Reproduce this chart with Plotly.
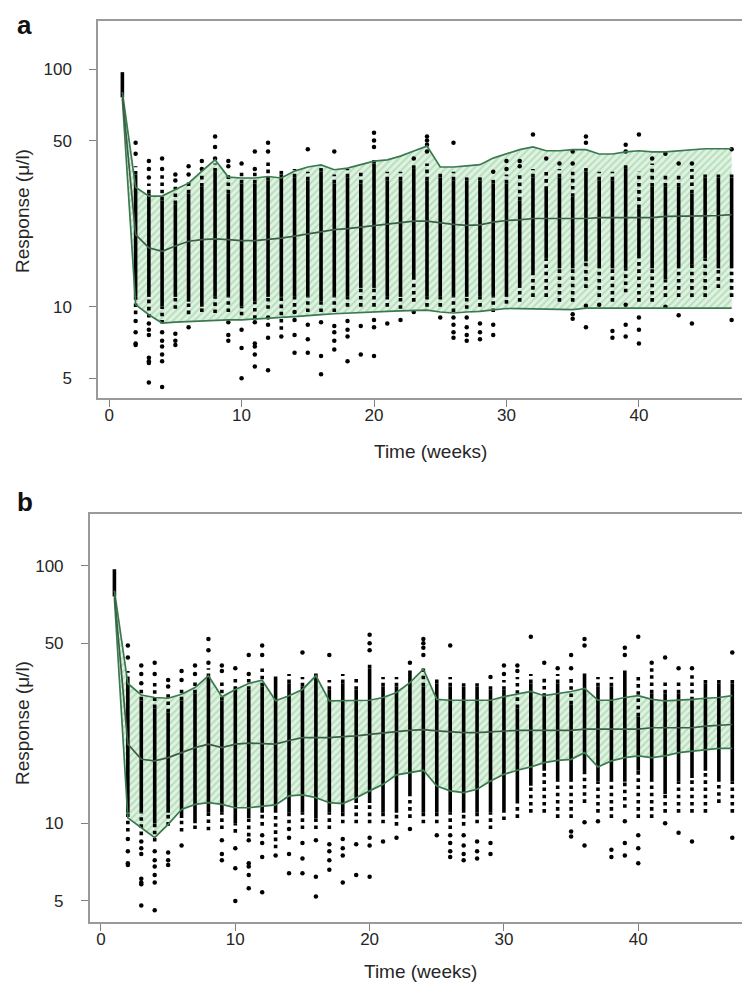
import plotly.graph_objects as go

weeks = list(range(1, 48))

# observed data per week: solid core, dotted extent, isolated points
seg_lo = [76, 11, 11, 10, 11, 10.5, 10, 11, 11, 10, 10.5, 11, 11, 11, 11, 10.5, 11, 11, 12, 12,
          11, 11, 13, 11, 11, 11, 11, 11, 11, 11, 12, 14, 16, 14.5, 14.5, 15.5, 14.5, 14.5, 14.5, 16,
          14.5, 13, 14.5, 15, 16, 14.5, 14.5]
seg_hi = [97, 36, 30, 28, 27, 30, 32, 37, 30, 33, 33, 34, 36, 35, 34, 37, 33, 35, 33, 40,
          34, 34, 38, 34, 35, 34, 34, 34, 33, 33, 28, 35, 31, 35, 29, 37, 34, 34, 38, 26,
          32, 32, 32, 30, 35, 35, 35]
dot_lo = [76, 9.3, 9.0, 8.5, 9.8, 9.3, 9.5, 9.4, 9.5, 9.2, 8.9, 9.8, 8.0, 10, 9.5, 9.5, 9.5, 10, 10, 10,
          10, 9.8, 10.5, 10, 10, 9.5, 9.8, 10, 9.5, 10.3, 10.5, 11, 11, 10.5, 10.5, 12, 11, 10.5, 11.5, 10.5,
          10.5, 11, 11, 11, 11, 12, 11]
dot_hi = [97, 39, 33, 36, 32, 34, 36, 40, 36, 37, 37, 41, 38, 38, 37, 39, 36, 38, 37, 42,
          37, 37, 40, 40, 37, 37, 35, 35, 35, 36, 37, 38, 37, 38, 37, 39, 37, 37, 40, 37,
          40, 36, 36, 38, 36, 36, 36]
top_out = [[], [49, 44], [41, 38, 35], [42, 38], [36, 34], [39, 36], [41, 38], [52, 47, 42], [41, 39], [40],
           [45, 38], [49, 45], [], [], [46], [], [45], [], [], [54, 50, 47],
           [], [], [42], [52, 50, 48, 45], [], [49], [], [], [37], [41, 38],
           [41, 39], [53], [42], [40], [45, 40], [52, 49], [], [], [48, 45], [53],
           [42], [44], [40], [40], [], [], [46]]
bot_out = [[], [8.7, 7.8, 7.0, 6.9], [8.5, 8.0, 7.6, 6.1, 5.9, 5.8, 4.8], [7.8, 7.2, 6.8, 6.3, 5.9, 4.6],
           [7.7, 7.2, 6.9], [8.2], [], [], [8.6, 7.6, 7.2], [8.0, 6.7, 5.0],
           [8.6, 7.0, 6.8, 6.3, 5.6], [9.0, 8.4, 7.4, 5.4], [7.5], [9.5, 8.8, 7.6, 6.4], [8.4, 7.3, 6.4],
           [8.6, 6.2, 5.2], [8.3, 7.8, 7.2, 6.6], [8.7, 8.0, 7.5, 5.9], [8.3, 6.3], [8.8, 8.2, 6.2],
           [8.5], [8.8], [9.5], [], [9.0], [9.0, 8.4, 7.8, 7.4], [9.0, 8.2, 7.6, 7.2], [8.5, 7.8, 7.3],
           [8.4, 7.6], [], [], [], [], [], [9.3, 8.9], [10.1, 8.2], [10.2], [7.9, 7.4],
           [10.2, 8.4, 7.5], [9.0, 8.0, 7.0], [], [10], [9.2], [8.5], [], [], [8.8]]

# panel a prediction band
a_upper = [80, 31.8, 29.2, 29.2, 31.1, 33.1, 37.2, 41.5, 35.1, 34.8, 34.8, 35.3, 34.8, 37.2, 38.7, 39.5,
           37.7, 38.3, 39.6, 41.0, 41.5, 43.0, 45.2, 47.4, 38.7, 38.7, 39.1, 39.6, 42.2, 43.9, 45.8, 47.0,
           45.3, 45.3, 45.8, 45.8, 43.9, 43.9, 44.8, 45.3, 44.8, 44.8, 45.3, 45.8, 46.2, 46.2, 46.2]
a_median = [77.5, 20.1, 17.7, 17.1, 18.0, 18.85, 19.15, 19.3, 19.15, 18.96, 18.96, 19.15, 19.45, 19.83, 20.2,
            20.6, 21.1, 21.3, 21.6, 21.9, 22.3, 22.6, 22.9, 22.9, 22.5, 22.2, 22.0, 22.1, 22.7, 23.05, 23.2,
            23.5, 23.5, 23.5, 23.5, 23.5, 23.7, 23.7, 23.7, 23.7, 23.7, 24.0, 24.0, 24.1, 24.1, 24.2, 24.4]
a_lower = [75, 10.2, 9.25, 8.54, 8.62, 8.68, 8.73, 8.76, 8.81, 8.81, 8.9, 8.96, 9.02, 9.09, 9.2, 9.27,
           9.34, 9.41, 9.45, 9.52, 9.56, 9.61, 9.66, 9.68, 9.5, 9.41, 9.5, 9.56, 9.7, 9.83, 9.81, 9.78,
           9.78, 9.78, 9.72, 9.87, 9.87, 9.87, 9.87, 9.87, 9.87, 9.87, 9.87, 9.87, 9.87, 9.87, 9.87]

# panel b prediction band
b_upper = [80, 34.9, 31.5, 30.8, 30.6, 31.7, 33.65, 37.4, 31.0, 33.1, 34.9, 35.95, 29.9, 31.3, 33.1, 37.4,
           29.9, 29.9, 29.9, 30.05, 30.8, 32.2, 35.2, 39.66, 30.3, 30.05, 30.05, 30.05, 30.05, 31.06, 31.7,
           32.5, 31.3, 31.9, 32.5, 33.4, 30.05, 30.05, 30.8, 31.3, 30.3, 29.9, 30.05, 30.3, 30.6, 30.8, 31.3]
b_median = [77.5, 20.3, 17.73, 17.48, 17.99, 18.82, 19.68, 20.3, 19.68, 20.3, 20.5, 20.4, 20.3, 20.97, 21.5,
            21.5, 21.5, 21.7, 21.85, 22.17, 22.5, 22.7, 22.97, 23.1, 22.85, 22.6, 22.5, 22.5, 22.7, 22.85,
            22.97, 22.97, 22.97, 22.97, 22.97, 23.2, 23.2, 23.2, 23.2, 23.2, 23.5, 23.5, 23.5, 23.5, 23.85,
            24.07, 24.2]
b_lower = [75, 10.5, 9.62, 8.8, 9.91, 11.33, 11.85, 12.03, 11.85, 11.5, 11.5, 11.68, 11.79, 12.78, 12.89,
           12.58, 12.03, 11.93, 12.58, 13.37, 14.17, 15.42, 15.74, 16.07, 13.97, 13.37, 13.16, 13.56, 14.61,
           15.5, 16.07, 16.56, 17.21, 17.57, 17.73, 18.82, 16.56, 17.48, 17.99, 18.27, 17.99, 18.27, 18.82,
           19.1, 19.38, 19.56, 19.56]

y_ticks = [5, 10, 50, 100]
x_ticks = [0, 10, 20, 30, 40]

W, H = 750, 982
fig = go.Figure()

band_line = "#3b7a50"
median_line = "#3d5e46"


def add_panel(xa, ya, upper, median, lower):
    # band polygon (fill only, below the points)
    fig.add_trace(go.Scatter(x=weeks + weeks[::-1], y=upper + lower[::-1], mode="lines",
                             fill="toself", fillcolor="#d6edd8",
                             fillpattern=dict(shape="/", bgcolor="#e0f2e1",
                                              fgcolor="#8ccb98", size=5, solidity=0.4),
                             line=dict(width=0),
                             xaxis=xa, yaxis=ya, hoverinfo="skip", showlegend=False))
    # observed data: solid cores
    xs, ys = [], []
    for w, lo, hi in zip(weeks, seg_lo, seg_hi):
        xs += [w, w, None]
        ys += [lo, hi, None]
    fig.add_trace(go.Scatter(x=xs, y=ys, mode="lines", line=dict(color="black", width=3.6),
                             xaxis=xa, yaxis=ya, hoverinfo="skip", showlegend=False))
    # dotted extents
    xs, ys = [], []
    for w, lo, hi, dlo, dhi in zip(weeks, seg_lo, seg_hi, dot_lo, dot_hi):
        if dhi > hi:
            xs += [w, w, None]
            ys += [hi, dhi, None]
        if dlo < lo:
            xs += [w, w, None]
            ys += [dlo, lo, None]
    fig.add_trace(go.Scatter(x=xs, y=ys, mode="lines", line=dict(color="black", width=3.6, dash="dot"),
                             xaxis=xa, yaxis=ya, hoverinfo="skip", showlegend=False))
    # isolated points
    px_, py_ = [], []
    for w, t, b in zip(weeks, top_out, bot_out):
        for v in t + b:
            px_.append(w)
            py_.append(v)
    fig.add_trace(go.Scatter(x=px_, y=py_, mode="markers", marker=dict(color="black", size=4.5),
                             xaxis=xa, yaxis=ya, hoverinfo="skip", showlegend=False))
    # band edges and median on top
    for series, col in [(upper, band_line), (lower, band_line), (median, median_line)]:
        fig.add_trace(go.Scatter(x=weeks, y=series, mode="lines", line=dict(color=col, width=1.7),
                                 xaxis=xa, yaxis=ya, hoverinfo="skip", showlegend=False))


add_panel("x", "y", a_upper, a_median, a_lower)
add_panel("x2", "y2", b_upper, b_median, b_lower)

font_ax = dict(family="Liberation Sans, Arial, sans-serif", size=17, color="#262626")
common_x = dict(range=[-0.84, 48.84], tickvals=x_ticks, ticks="outside", ticklen=7, tickcolor="#808080",
                tickwidth=1.2, showline=True, mirror=True, linecolor="#9a9a9a", linewidth=1.5,
                showgrid=False, zeroline=False, tickfont=font_ax, ticklabelstandoff=-6)
common_y = dict(type="log", range=[0.616, 2.202], tickvals=y_ticks, ticktext=[str(v) for v in y_ticks],
                ticks="outside", ticklen=7, tickcolor="#808080", tickwidth=1.2, showline=True, mirror=True,
                linecolor="#9a9a9a", linewidth=1.5, showgrid=False, zeroline=False, tickfont=font_ax,
                ticklabelstandoff=14)

fig.update_layout(
    width=W, height=H, margin=dict(l=0, r=0, t=0, b=0),
    paper_bgcolor="white", plot_bgcolor="white",
    xaxis=dict(domain=[90 / W, 748 / W], anchor="y", **common_x),
    yaxis=dict(domain=[1 - 390 / H, 1 - 13 / H], anchor="x", **common_y),
    xaxis2=dict(domain=[81.7 / W, 749 / W], anchor="y2", **common_x),
    yaxis2=dict(domain=[1 - 914.3 / H, 1 - 505.7 / H], anchor="x2", **common_y),
)

title_font = dict(family="Liberation Sans, Arial, sans-serif", size=19, color="#262626")
ann = [
    dict(text="Time (weeks)", x=422 / W, y=1 - 443 / H),
    dict(text="Time (weeks)", x=412 / W, y=1 - 963 / H),
    dict(text="Response (μ/l)", x=14 / W, y=1 - 203 / H, textangle=-90),
    dict(text="Response (μ/l)", x=14 / W, y=1 - 715 / H, textangle=-90),
]
for a in ann:
    fig.add_annotation(xref="paper", yref="paper", showarrow=False, xanchor="center", yanchor="middle",
                       font=title_font, **a)
for t, x, y in [("a", 16, 17), ("b", 17, 494)]:
    fig.add_annotation(xref="paper", yref="paper", showarrow=False, xanchor="center", yanchor="middle",
                       text="<b>" + t + "</b>", x=x / W, y=1 - y / H,
                       font=dict(family="Liberation Sans, Arial, sans-serif", size=26, color="#111"))

fig.write_html("out.html")
